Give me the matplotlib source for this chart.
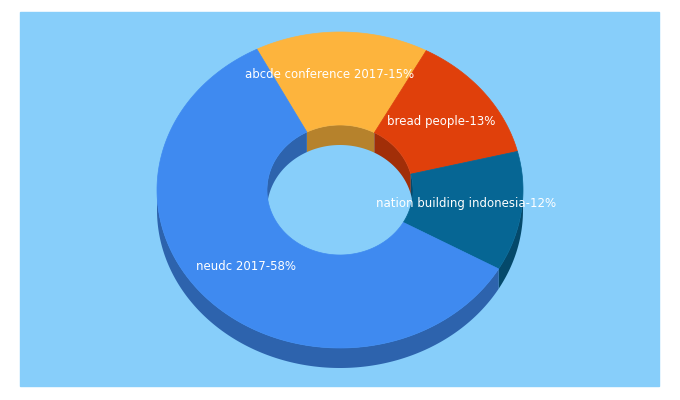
import numpy as np
import matplotlib
matplotlib.use("Agg")
import matplotlib.pyplot as plt
from matplotlib.patches import Polygon, Rectangle

labels = ["abcde conference 2017", "bread people", "nation building indonesia", "neudc 2017"]
values = [15, 13, 12, 58]
colors = ["#FDB43D", "#E0400B", "#066694", "#3F8AF0"]
label_pos = [(330, 74), (441, 121), (466, 204), (246, 267)]

cx, cy = 340, 190
rx, ry = 183, 158
irx, iry = 73, 65
depth = 20
start = 117.0

def dark(c, f=0.72):
    r, g, b = matplotlib.colors.to_rgb(c)
    return (r*f, g*f, b*f)

fig = plt.figure(figsize=(6.8, 4.0), dpi=100)
ax = fig.add_axes([0, 0, 1, 1])
ax.set_xlim(0, 680); ax.set_ylim(400, 0); ax.axis("off")
ax.add_patch(Rectangle((20, 12), 639, 374, color="#87CEFA", zorder=0))

def pt(a, Rx, Ry, dz=0):
    t = np.radians(a)
    return np.column_stack([cx + Rx*np.cos(t), cy - Ry*np.sin(t) + dz])

total = sum(values)
angles = []
a = start
for v in values:
    span = 360 * v / total
    angles.append((a - span, a))
    a -= span

# inner wall (back half of hole)
for (a0, a1), c in zip(angles, colors):
    ts = np.linspace(a0, a1, 200)
    ts = ts[np.sin(np.radians(ts)) > 0] if False else ts
    s = np.sin(np.radians(ts)) >= 0
    if s.sum() < 2:
        continue
    ts = ts[s]
    poly = np.vstack([pt(ts, irx, iry), pt(ts[::-1], irx, iry, depth)])
    ax.add_patch(Polygon(poly, closed=True, color=dark(c), zorder=1, lw=0))

# top faces
for (a0, a1), c in zip(angles, colors):
    ts = np.linspace(a0, a1, 200)
    poly = np.vstack([pt(ts, rx, ry), pt(ts[::-1], irx, iry)])
    ax.add_patch(Polygon(poly, closed=True, color=c, zorder=2, lw=0.5, ec=c))

# outer walls (front half)
for (a0, a1), c in zip(angles, colors):
    ts = np.linspace(a0, a1, 300)
    s = np.sin(np.radians(ts)) <= 0
    if s.sum() < 2:
        continue
    ts = ts[s]
    poly = np.vstack([pt(ts, rx, ry), pt(ts[::-1], rx, ry, depth)])
    ax.add_patch(Polygon(poly, closed=True, color=dark(c), zorder=1.5, lw=0))

for lab, v, (x, y) in zip(labels, values, label_pos):
    ax.text(x, y, f"{lab}-{v}%", color="white", fontsize=8.5, ha="center", va="center", zorder=5)

fig.savefig("out.png", dpi=100)
